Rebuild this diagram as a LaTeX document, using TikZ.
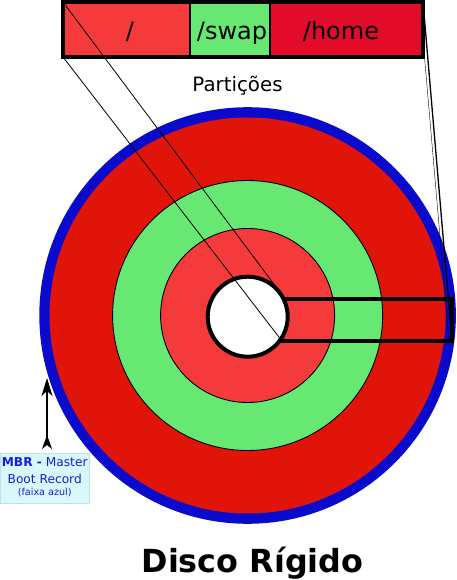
\documentclass[tikz,border=0pt]{standalone}
\usepackage{fontspec}
\setmainfont{DejaVu Sans}
\usetikzlibrary{arrows.meta}
\definecolor{diskred}{HTML}{E1140A}
\definecolor{rootred}{HTML}{F43A3A}
\definecolor{swapgreen}{HTML}{66E873}
\definecolor{homered}{HTML}{E30B2A}
\definecolor{mbrblue}{HTML}{0A0ACD}
\definecolor{mbrfill}{HTML}{D8F8FA}
\definecolor{mbrborder}{HTML}{B8E2EE}
\definecolor{mbrtext}{HTML}{1A1AE0}
\tikzset{
  ring/.style={draw=black, line width=0.9pt},
  cell/.style={draw=black, line width=2pt},
  proj/.style={draw=black, line width=0.8pt},
  projthin/.style={draw=black, line width=0.4pt},
  barlabel/.style={font=\fontsize{24}{28}\selectfont, anchor=base, inner sep=0pt},
}
\begin{document}
\begin{tikzpicture}[x=1pt,y=-1pt]
\useasboundingbox (0,0) rectangle (457,580);
% disk
\coordinate (c) at (247.6,315.5);
\fill[mbrblue] (c) circle (208.3pt);
\fill[diskred] (c) circle (198pt);
\path[ring, fill=swapgreen] (c) circle (135pt);
\path[ring, fill=rootred] (c) circle (87pt);
% sector box
\coordinate (secTL) at (285,299);
\coordinate (secBL) at (282,341);
\coordinate (secTR) at (452,299);
\coordinate (secBR) at (452,341);
\draw[line width=3.6pt] (secTL) -- (secTR) -- (secBR) -- (secBL);
\draw[line width=3.6pt] (secTL) -- (270,299);
\draw[line width=3.6pt] (secBL) -- (270,341);
% hole
\path[draw=black, fill=white, line width=4pt] (247.7,316.7) circle (40pt);
% partition bar
\coordinate (barTL) at (63,2);
\coordinate (barBL) at (63,57);
\coordinate (barTR) at (423,2);
\coordinate (barBR) at (423,57);
\fill[rootred] (63,2) rectangle (189.5,57);
\fill[swapgreen] (189.5,2) rectangle (270,57);
\fill[homered] (270,2) rectangle (423,57);
\draw[line width=2pt] (189.5,2) -- (189.5,57);
\draw[line width=2.8pt] (270,2) -- (270,57);
\draw[line width=4pt] (barTL) rectangle (barBR);
\node[barlabel] (root) at (130,40) {/};
\node[barlabel] (swap) at (232,40) {/swap};
\node[barlabel] (home) at (341,40) {/home};
% projection lines
\draw[proj] (barTL) -- (secTL);
\draw[proj] (barBL) -- (secBL);
\draw[line width=1.3pt] (barTR) -- (secBR);
\draw[projthin] (424.5,57) -- (449,341);
% titles
\node[anchor=base, inner sep=0pt, font=\fontsize{19.8}{24}\selectfont] (part) at (237.5,91.7) {Partições};
\node[anchor=base, inner sep=0pt, font=\fontsize{31.8}{38}\selectfont\bfseries] (title) at (252.5,572.3) {Disco Rígido};
% MBR
\path[draw=mbrborder, fill=mbrfill, line width=0.8pt] (0.4,453) rectangle (89.5,503.5);
\node[anchor=base, inner sep=0pt, text=mbrtext, font=\fontsize{12.2}{14}\selectfont] (mbr1) at (44.7,466.7) {\textbf{MBR -} Master};
\node[anchor=base, inner sep=0pt, text=mbrtext, font=\fontsize{12.2}{14}\selectfont] (mbr2) at (44.7,483.3) {Boot Record};
\node[anchor=base, inner sep=0pt, text=mbrtext, font=\fontsize{9.6}{12}\selectfont] (mbr3) at (44.7,495) {(faixa azul)};
\coordinate (arrBot) at (47,449);
\coordinate (arrTop) at (47,378);
\draw[line width=1.4pt, {Stealth[reversed,length=14pt,width=10pt,inset=4pt]}-{Stealth[length=18pt,width=11pt,inset=5pt]}] (arrBot) -- (arrTop);
\end{tikzpicture}
\end{document}
